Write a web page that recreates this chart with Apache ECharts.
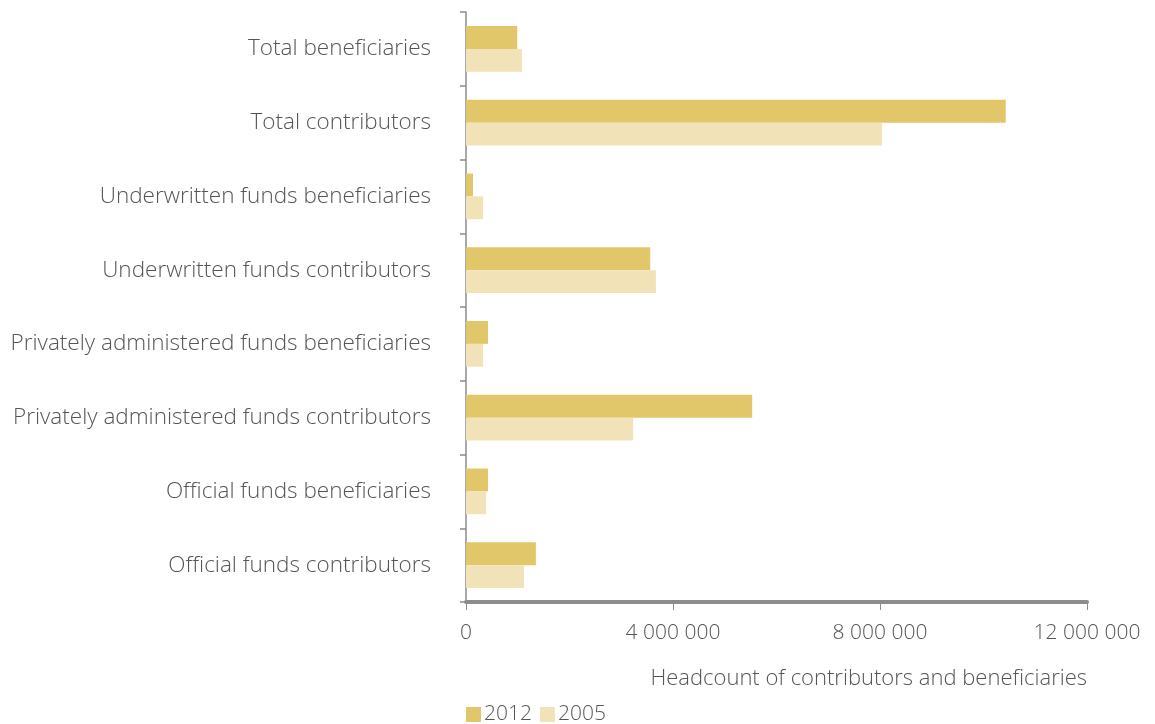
<!DOCTYPE html>
<html>
<head>
<meta charset="utf-8">
<script src="https://cdn.jsdelivr.net/npm/echarts@6/dist/echarts.min.js"></script>
<style>
  html, body { margin: 0; padding: 0; background: #ffffff; }
  #chart { width: 1155px; height: 724px; }
</style>
</head>
<body>
<div id="chart"></div>
<script>
// Categories, listed top to bottom
const categories = [
  'Total beneficiaries',
  'Total contributors',
  'Underwritten funds beneficiaries',
  'Underwritten funds contributors',
  'Privately administered funds beneficiaries',
  'Privately administered funds contributors',
  'Official funds beneficiaries',
  'Official funds contributors'
];

// Headcounts per category
const values2012 = [990000, 10430000, 135000, 3560000, 425000, 5530000, 425000, 1350000];
const values2005 = [1080000, 8040000, 330000, 3670000, 330000, 3230000, 390000, 1120000];

// Value axis ticks
const tickValues = [0, 4000000, 8000000, 12000000];

const FONT = '"Open Sans", "Noto Sans", sans-serif';
const TEXT = '#545557';

function fmt(v) {
  return String(v).replace(/\B(?=(\d{3})+(?!\d))/g, ' ');
}

const chart = echarts.init(document.getElementById('chart'), null, { renderer: 'canvas' });

chart.setOption({
  animation: false,
  backgroundColor: '#ffffff',
  textStyle: { fontFamily: FONT },
  title: {
    text: 'Headcount of contributors and beneficiaries',
    right: 68,
    top: 668,
    padding: 0,
    textStyle: { fontFamily: FONT, fontSize: 22, fontWeight: 300, color: TEXT }
  },
  legend: {
    left: 461,
    top: 704,
    padding: [0, 5],
    itemWidth: 15,
    itemHeight: 15,
    itemGap: 8,
    icon: 'rect',
    textStyle: { fontFamily: FONT, fontSize: 21, fontWeight: 300, color: TEXT, padding: [0, 0, 0, -2] },
    data: ['2012', '2005']
  },
  grid: { left: 466, right: 68, top: 12, bottom: 122, containLabel: false },
  xAxis: {
    type: 'value',
    min: tickValues[0],
    max: tickValues[tickValues.length - 1],
    interval: tickValues[1] - tickValues[0],
    splitLine: { show: false },
    axisLine: { show: true, lineStyle: { color: '#8c8c8c', width: 4 } },
    axisTick: { show: true, length: 8, lineStyle: { color: '#8c8c8c', width: 1 } },
    axisLabel: {
      margin: 21,
      fontFamily: FONT,
      fontSize: 21,
      fontWeight: 300,
      color: TEXT,
      formatter: fmt
    }
  },
  yAxis: {
    type: 'category',
    inverse: true,
    data: categories,
    axisLine: { show: true, lineStyle: { color: '#8c8c8c', width: 1.5 } },
    axisTick: { show: true, length: 6, lineStyle: { color: '#8c8c8c', width: 1.5 } },
    axisLabel: {
      margin: 35,
      fontFamily: FONT,
      fontSize: 22.5,
      fontWeight: 300,
      color: TEXT,
      padding: [3, 0, 0, 0]
    }
  },
  series: [
    {
      name: '2012',
      type: 'bar',
      data: values2012,
      barGap: '0%',
      barCategoryGap: '38%',
      itemStyle: { color: '#e1c76a' }
    },
    {
      name: '2005',
      type: 'bar',
      data: values2005,
      barGap: '0%',
      barCategoryGap: '38%',
      itemStyle: { color: '#f1e3b7' }
    }
  ]
});
</script>
</body>
</html>
